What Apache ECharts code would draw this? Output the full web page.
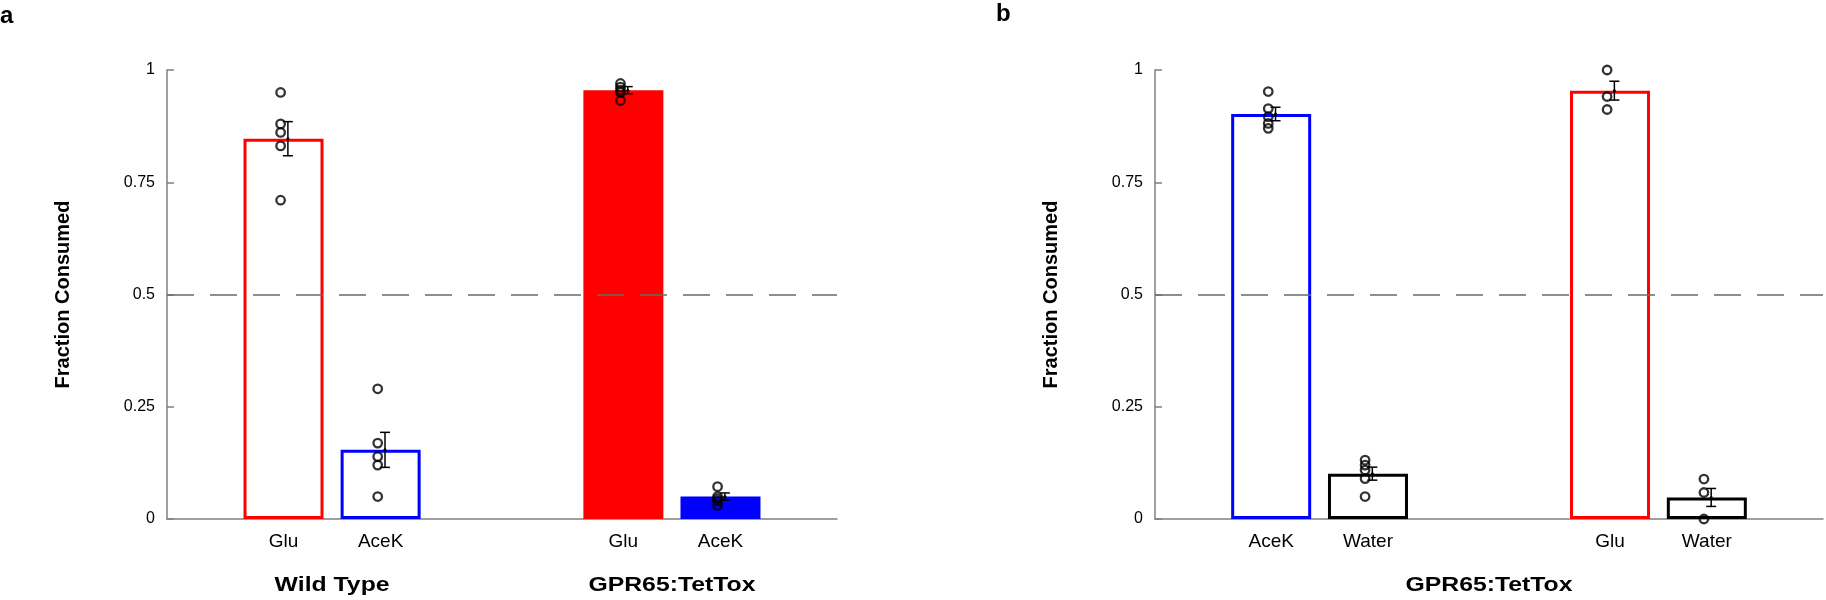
<!DOCTYPE html>
<html>
<head>
<meta charset="utf-8">
<script src="https://cdn.jsdelivr.net/npm/echarts@6/dist/echarts.min.js"></script>
<style>
html,body{margin:0;padding:0;background:#fff;}
#chart{width:1826px;height:600px;}
</style>
</head>
<body>
<div id="chart"></div>
<script>
// ---------- DATA ----------
const yTickLabels = ['0', '0.25', '0.5', '0.75', '1'];
const chanceLevel = 0.5;

// Panel a
const aCategories = ['Glu', 'AceK', 'Glu', 'AceK'];
const aGroups = ['Wild Type', 'GPR65:TetTox'];
const aMeans = [0.847, 0.154, 0.955, 0.050];
const aSem = [0.038, 0.039, 0.008, 0.008];
const aPoints = [
  [0.950, 0.880, 0.861, 0.831, 0.710],
  [0.290, 0.169, 0.139, 0.120, 0.050],
  [0.970, 0.962, 0.955, 0.950, 0.932],
  [0.072, 0.050, 0.045, 0.040, 0.030]
];

// Panel b
const bCategories = ['AceK', 'Water', 'Glu', 'Water'];
const bGroups = ['GPR65:TetTox'];
const bMeans = [0.902, 0.101, 0.954, 0.048];
const bSem = [0.015, 0.0145, 0.021, 0.020];
const bPoints = [
  [0.952, 0.914, 0.896, 0.881, 0.870],
  [0.131, 0.120, 0.109, 0.090, 0.050],
  [1.000, 0.941, 0.912],
  [0.089, 0.059, 0.000]
];

// ---------- LAYOUT / STYLE ----------
const SLOT = [1.2, 2.2, 4.7, 5.7];     // bar slot positions on the x scale
const X_MAX = 6.9;
const POINT_DX = -0.03;
const ERR_DX = 0.045;
const FONT = "'Liberation Sans', Arial, Helvetica, sans-serif";
const AXIS_GRAY = '#808080';

const aStyles = [
  {color: '#ff0000', fill: false},
  {color: '#0000ff', fill: false},
  {color: '#ff0000', fill: true},
  {color: '#0000ff', fill: true}
];
const bStyles = [
  {color: '#0000ff', fill: false},
  {color: '#000000', fill: false},
  {color: '#ff0000', fill: false},
  {color: '#000000', fill: false}
];

function barRenderer(styles) {
  return function (params, api) {
    const x = api.value(0), v = api.value(1);
    const top = api.coord([x, v]);
    const base = api.coord([x, 0]);
    const st = styles[params.dataIndex];
    if (st.fill) {
      return {type: 'rect', shape: {x: top[0] - 40, y: top[1], width: 80, height: base[1] - top[1]},
              style: {fill: st.color}};
    }
    return {type: 'rect', shape: {x: top[0] - 38.5, y: top[1] + 1.5, width: 77, height: base[1] - top[1] - 3},
            style: {fill: 'none', stroke: st.color, lineWidth: 3}};
  };
}

function errRenderer(params, api) {
  const x = api.value(0), m = api.value(1), e = api.value(2);
  const hi = api.coord([x, m + e]);
  const lo = api.coord([x, m - e]);
  const mid = api.coord([x, m]);
  const cw = 5;
  const ls = {stroke: '#000', lineWidth: 1.5};
  return {type: 'group', children: [
    {type: 'line', shape: {x1: hi[0], y1: hi[1], x2: lo[0], y2: lo[1]}, style: ls},
    {type: 'line', shape: {x1: hi[0] - cw, y1: hi[1], x2: hi[0] + cw, y2: hi[1]}, style: ls},
    {type: 'line', shape: {x1: lo[0] - cw, y1: lo[1], x2: lo[0] + cw, y2: lo[1]}, style: ls},
    {type: 'circle', shape: {cx: mid[0], cy: mid[1], r: 1.5}, style: {fill: '#000'}}
  ]};
}

function groupTitleRenderer(texts) {
  return function (params, api) {
    const p = api.coord([api.value(0), 0]);
    return {type: 'text', x: p[0], y: p[1] + 66, scaleX: 1.18,
            style: {text: texts[params.dataIndex], font: 'bold 21px ' + FONT, fill: '#000',
                    align: 'center', verticalAlign: 'middle'}};
  };
}

function buildPanel(idx, categories, groups, means, sem, points, styles) {
  const barData = means.map((m, i) => [SLOT[i], m]);
  const errData = means.map((m, i) => [SLOT[i] + ERR_DX, m, sem[i]]);
  const ptData = [];
  points.forEach((arr, i) => arr.forEach(v => ptData.push([SLOT[i] + POINT_DX, v])));
  const groupData = groups.length === 1
    ? [[(SLOT[0] + SLOT[3]) / 2, 0]]
    : groups.map((g, gi) => [(SLOT[gi * 2] + SLOT[gi * 2 + 1]) / 2, 0]);
  return [
    {type: 'custom', xAxisIndex: idx, yAxisIndex: idx, renderItem: barRenderer(styles),
     data: barData, encode: {x: 0, y: 1}, z: 2,
     markLine: {silent: true, symbol: 'none', label: {show: false}, animation: false,
       lineStyle: {color: '#6a6a6a', width: 1.6, type: [27, 16]},
       data: [{yAxis: chanceLevel}]}},
    {type: 'scatter', xAxisIndex: idx, yAxisIndex: idx, data: ptData, symbol: 'circle', symbolSize: 8.5,
     itemStyle: {color: 'rgba(0,0,0,0)', borderColor: '#000', borderWidth: 2.3}, z: 4},
    {type: 'custom', xAxisIndex: idx, yAxisIndex: idx, renderItem: errRenderer,
     data: errData, encode: {x: 0, y: [1]}, z: 5},
    {type: 'custom', xAxisIndex: idx, yAxisIndex: idx, renderItem: groupTitleRenderer(groups),
     data: groupData, encode: {x: 0, y: 1}, clip: false, z: 5}
  ];
}

function xAxisFor(idx, categories) {
  return {
    type: 'value', gridIndex: idx, min: 0, max: X_MAX, interval: 0.1,
    axisLine: {show: true, onZero: false, lineStyle: {color: AXIS_GRAY, width: 1.5}},
    axisTick: {show: false}, splitLine: {show: false},
    axisLabel: {
      margin: 13, fontSize: 19, fontFamily: FONT, color: '#000', showMinLabel: true, showMaxLabel: true,
      formatter: function (v) {
        for (let i = 0; i < SLOT.length; i++) {
          if (Math.abs(v - SLOT[i]) < 1e-6) return categories[i];
        }
        return '';
      }
    }
  };
}

function yAxisFor(idx) {
  return {
    type: 'value', gridIndex: idx, min: 0, max: 1, interval: 0.25,
    name: 'Fraction Consumed', nameLocation: 'middle', nameRotate: 90, nameGap: 94,
    nameTextStyle: {fontSize: 20, fontWeight: 'bold', fontFamily: FONT, color: '#000'},
    axisLine: {show: true, lineStyle: {color: AXIS_GRAY, width: 1.5}},
    axisTick: {show: true, inside: true, length: 7, lineStyle: {color: AXIS_GRAY, width: 1.5}},
    splitLine: {show: false},
    axisLabel: {margin: 12, fontSize: 16, fontFamily: FONT, color: '#000',
      formatter: function (v) { return yTickLabels[Math.round(v / 0.25)]; }}
  };
}

const chart = echarts.init(document.getElementById('chart'), null, {renderer: 'canvas'});
chart.setOption({
  animation: false,
  backgroundColor: '#fff',
  grid: [
    {left: 167, top: 70, width: 670, height: 449},
    {left: 1155, top: 70, width: 670, height: 449}
  ],
  xAxis: [xAxisFor(0, aCategories), xAxisFor(1, bCategories)],
  yAxis: [yAxisFor(0), yAxisFor(1)],
  graphic: [
    {type: 'text', left: 0, top: 4, style: {text: 'a', font: 'bold 24px ' + FONT, fill: '#000'}},
    {type: 'text', left: 996, top: 2, style: {text: 'b', font: 'bold 24px ' + FONT, fill: '#000'}}
  ],
  series: [].concat(
    buildPanel(0, aCategories, aGroups, aMeans, aSem, aPoints, aStyles),
    buildPanel(1, bCategories, bGroups, bMeans, bSem, bPoints, bStyles)
  )
});
</script>
</body>
</html>
